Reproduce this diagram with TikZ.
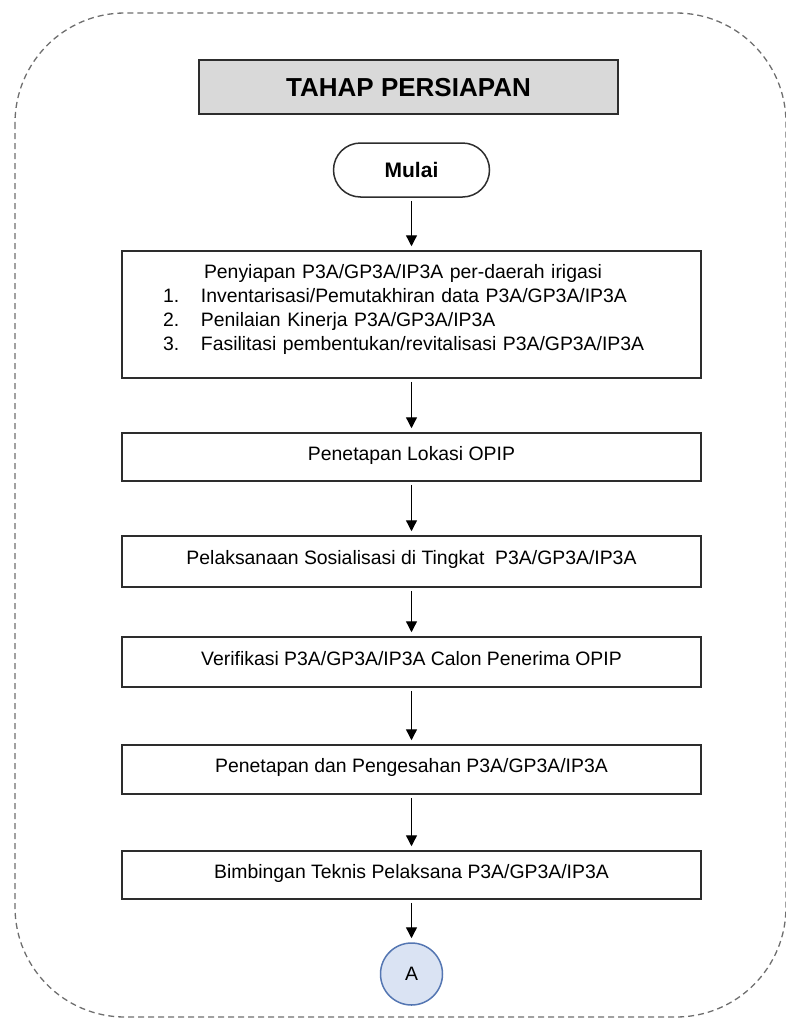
\documentclass[tikz,border=0pt]{standalone}
\usepackage{fontspec}
\setmainfont{Liberation Sans}
\definecolor{main}{RGB}{84,118,178}
\definecolor{mainfill}{RGB}{218,227,243}
\definecolor{framegray}{RGB}{110,110,110}
\definecolor{linegray}{RGB}{45,45,45}
\definecolor{titlefill}{RGB}{217,217,217}
\usetikzlibrary{
	arrows.meta,
	positioning
}
\tikzset{
  % arrow
	cstra/.style      ={-{Triangle[width=11pt,length=11pt]}, line width=1.3pt, shorten <=3pt, shorten >=4pt}, % down arrow
  % frame
	cstframe/.style   ={draw=framegray, line width=1.3pt, dash pattern=on 6pt off 4pt, rounded corners=110pt}, % outer dashed frame
  % node
	cstfont/.style    ={font=\fontsize{19.4}{24.3}\selectfont},
	cstbox/.style     ={cstfont, draw=linegray, line width=1.5pt, fill=white, inner xsep=0pt, inner ysep=0pt, text height=27pt, text depth=21pt, minimum width=579pt},
	csttitle/.style   ={draw=linegray, line width=2pt, fill=titlefill, font=\bfseries\fontsize{26}{30}\selectfont, text height=18.6pt, text depth=0pt, minimum width=419pt, minimum height=54pt},
	cststart/.style   ={draw=linegray, line width=1.5pt, rounded corners=27pt, font=\bfseries\fontsize{21}{25}\selectfont, minimum width=156pt, minimum height=54pt},
	cstconn/.style    ={circle, draw=main, fill=mainfill, line width=1.5pt, cstfont, minimum size=62pt, inner sep=0pt}
}

\begin{document}
\begin{tikzpicture}[x=1pt,y=-1pt]
	\useasboundingbox (0,0) rectangle (786,1020);
	\draw[cstframe] (15,13) rectangle (786,1017);
	\node[csttitle] (title) at (408.5,87) {TAHAP PERSIAPAN};
	\node[cststart] (mulai) at (411.5,170) {Mulai};
	\node[cstbox,text width=497pt,inner xsep=41pt,align=left,text height=27pt,text depth=100pt] (siap) at (411.5,314.5)
		{\hspace*{41pt}Penyiapan P3A/GP3A/IP3A per-daerah irigasi\\
		\makebox[38pt][l]{1.}Inventarisasi/Pemutakhiran data P3A/GP3A/IP3A\\
		\makebox[38pt][l]{2.}Penilaian Kinerja P3A/GP3A/IP3A\\
		\makebox[38pt][l]{3.}Fasilitasi pembentukan/revitalisasi P3A/GP3A/IP3A};
	\node[cstbox,minimum height=48pt] (lokasi) at (411.5,457) {Penetapan Lokasi OPIP};
	\node[cstbox,minimum height=51pt] (sosial) at (411.5,561.5) {Pelaksanaan Sosialisasi di Tingkat\ \ P3A/GP3A/IP3A};
	\node[cstbox,minimum height=50pt] (verif) at (411.5,662) {Verifikasi P3A/GP3A/IP3A Calon Penerima OPIP};
	\node[cstbox,minimum height=49pt] (sah) at (411.5,769.5) {Penetapan dan Pengesahan P3A/GP3A/IP3A};
	\node[cstbox,minimum height=48pt] (bimtek) at (411.5,875) {Bimbingan Teknis Pelaksana P3A/GP3A/IP3A};
	\node[cstconn] (a) at (411.5,974) {A};
	\draw[cstra] (mulai) -- (siap);
	\draw[cstra] (siap) -- (lokasi);
	\draw[cstra] (lokasi) -- (sosial);
	\draw[cstra] (sosial) -- (verif);
	\draw[cstra] (verif) -- (sah);
	\draw[cstra] (sah) -- (bimtek);
	\draw[cstra] (bimtek) -- (a);
\end{tikzpicture}
\end{document}
